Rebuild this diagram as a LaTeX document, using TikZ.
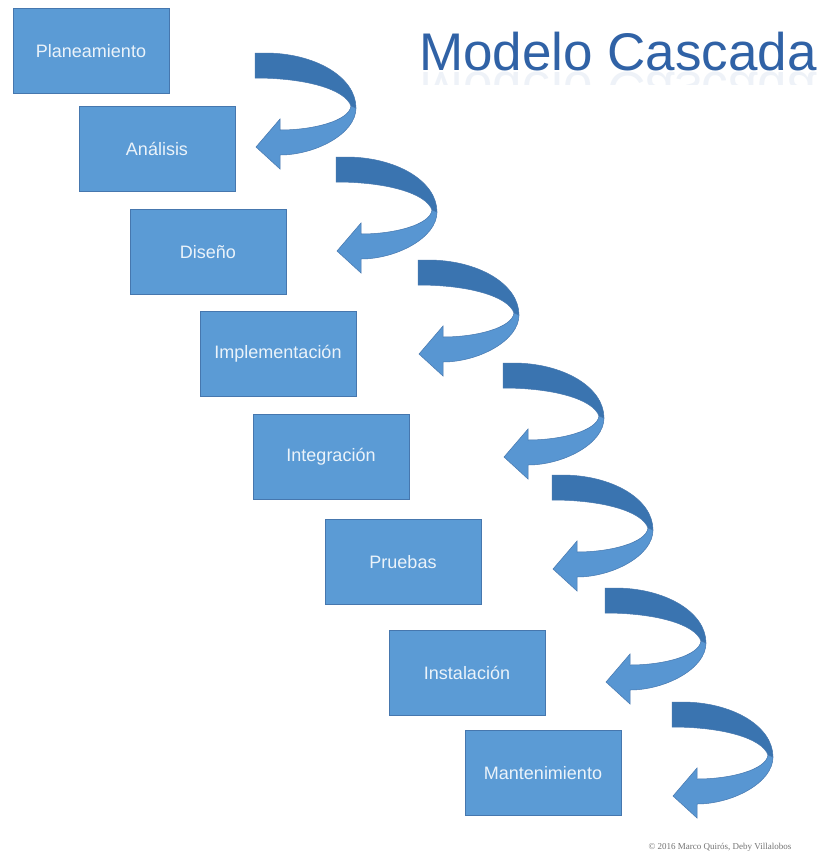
\documentclass[tikz,border=0pt]{standalone}
\usepackage{fontspec}
\setmainfont{Liberation Sans}
\newfontfamily\copyfont{Liberation Serif}
\usepackage{tikz}

\definecolor{cajaazul}{HTML}{5B9BD5}
\definecolor{bordeazul}{HTML}{4677AE}
\definecolor{flechaosc}{HTML}{3A74B0}
\definecolor{flechaclara}{HTML}{5896D2}
\definecolor{tituloazul}{HTML}{3062A6}

\begin{document}
\begin{tikzpicture}[x=1pt,y=-1pt,
  fase/.style={draw=bordeazul,fill=cajaazul,line width=.8pt,minimum width=156pt,minimum height=85pt,text=white!88!cajaazul,font=\fontsize{18}{20}\selectfont},
  flecha/.pic={
    \fill[flechaosc,draw=bordeazul,line width=.5pt] (0,0) -- (10,0) .. controls (60,0) and (101,24) .. (101,55) -- (96,53) .. controls (90,36) and (50,25) .. (0,25) -- cycle;
    \fill[flechaclara,draw=bordeazul,line width=.5pt] (101,55) .. controls (101,81) and (60,102) .. (25,102) -- (25,116) -- (1,94) -- (25,66) -- (25,77) .. controls (58,77) and (94,68) .. (96,53) -- cycle;
  }]

  \fill[white] (0,0) rectangle (822,855);
  \useasboundingbox (0,0) rectangle (822,855);

  \node[fase] (f1) at (91,51) {Planeamiento};
  \node[fase] (f2) at (157,149) {Análisis};
  \node[fase] (f3) at (208,252) {Diseño};
  \node[fase] (f4) at (278,354) {Implementación};
  \node[fase] (f5) at (331,457) {Integración};
  \node[fase] (f6) at (403,562) {Pruebas};
  \node[fase] (f7) at (467,673) {Instalación};
  \node[fase] (f8) at (543,773) {Mantenimiento};

  \coordinate (a1) at (255,53);
  \coordinate (a2) at (336,157);
  \coordinate (a3) at (418,260);
  \coordinate (a4) at (503,363);
  \coordinate (a5) at (552,475);
  \coordinate (a6) at (605,588);
  \coordinate (a7) at (672,702);

  \foreach \i in {1,...,7}
    \pic at (a\i) {flecha};

  \node[anchor=base east,inner sep=0,text=tituloazul,font=\fontsize{53}{60}\selectfont] (titulo) at (817,70) {Modelo Cascada};
  \begin{scope}
    \clip (400,71) rectangle (822,84);
    \node[anchor=base east,inner sep=0,text=tituloazul,opacity=.08,yscale=-1,font=\fontsize{53}{60}\selectfont] (reflejo) at (817,72) {Modelo Cascada};
  \end{scope}

  \node[anchor=base,inner sep=0,text=black!55,font=\copyfont\fontsize{9}{10}\selectfont] (derechos) at (720,849) {© 2016 Marco Quirós, Deby Villalobos};

\end{tikzpicture}
\end{document}
